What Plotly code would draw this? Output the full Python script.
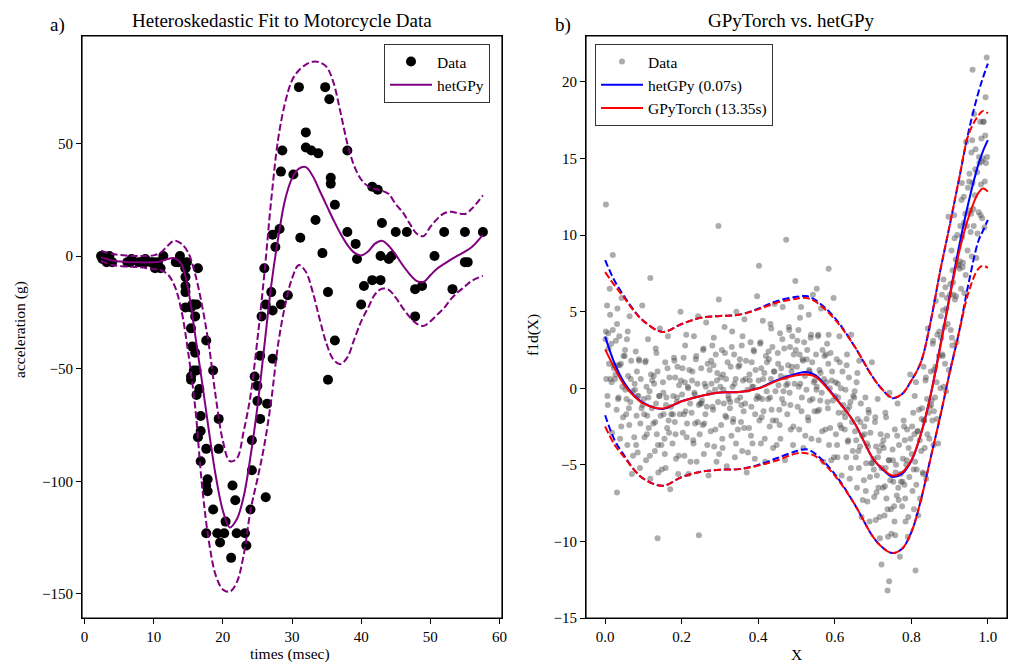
import plotly.graph_objects as go

# ---------------- Panel a) motorcycle data ----------------
moto_times = [2.4, 2.6, 3.2, 3.6, 4.0, 6.2, 6.6, 6.8, 7.8, 8.2,
              8.8, 8.8, 9.6, 10.0, 10.2, 10.6, 11.0, 11.4, 13.2, 13.6,
              13.8, 14.6, 14.6, 14.6, 14.6, 14.6, 14.6, 14.8, 15.4, 15.4,
              15.4, 15.4, 15.6, 15.6, 15.8, 15.8, 16.0, 16.0, 16.2, 16.2,
              16.2, 16.4, 16.4, 16.6, 16.8, 16.8, 16.8, 17.6, 17.6, 17.6,
              17.6, 17.8, 17.8, 18.6, 18.6, 19.2, 19.4, 19.4, 19.6, 20.2,
              20.4, 21.2, 21.4, 21.8, 22.0, 23.2, 23.4, 24.0, 24.2, 24.2,
              24.6, 25.0, 25.0, 25.4, 25.4, 25.6, 26.0, 26.2, 26.2, 26.4,
              27.0, 27.2, 27.2, 27.2, 27.6, 28.2, 28.4, 28.4, 28.6, 29.4,
              30.2, 31.0, 31.2, 32.0, 32.0, 32.8, 33.4, 33.8, 34.4, 34.8,
              35.2, 35.2, 35.4, 35.6, 35.6, 36.2, 36.2, 38.0, 38.0, 39.2,
              39.4, 40.0, 40.4, 41.6, 41.6, 42.4, 42.8, 42.8, 43.0, 44.0,
              44.4, 45.0, 46.6, 47.8, 47.8, 48.8, 50.6, 52.0, 53.2, 55.0,
              55.0, 55.4, 57.6]
moto_accel = [0.0, -1.3, -2.7, 0.0, -2.7, -2.7, -2.7, -1.3, -2.7, -2.7,
              -1.3, -2.7, -2.7, -2.7, -5.4, -2.7, -5.4, 0.0, -2.7, -2.7,
              0.0, -13.3, -5.4, -5.4, -9.3, -16.0, -22.8, -2.7, -22.8, -32.1,
              -53.5, -54.9, -40.2, -21.5, -21.5, -50.8, -42.9, -26.8, -21.5, -50.8,
              -61.7, -5.4, -80.4, -59.0, -71.0, -91.1, -77.7, -37.5, -85.6, -123.1,
              -101.9, -99.1, -104.4, -112.5, -50.8, -123.1, -85.6, -72.3, -127.2, -123.1,
              -117.9, -134.0, -101.9, -108.4, -123.1, -123.1, -128.5, -112.5, -95.1, -81.8,
              -53.5, -64.4, -57.6, -72.3, -44.3, -26.8, -5.4, -107.1, -21.5, -65.6,
              -16.0, -45.6, -24.2, 9.5, 4.0, 12.0, -21.5, 37.5, 46.9, -17.4,
              36.2, 75.0, 8.1, 54.9, 48.2, 46.9, 16.0, 45.6, 1.3, 75.0,
              -16.0, -54.9, 69.6, 34.8, 32.1, -37.5, 22.8, 46.9, 10.7, 5.4,
              -1.3, -21.5, -13.3, 30.8, -10.7, 29.4, 0.0, -10.7, 14.7, -1.3,
              0.0, 10.7, 10.7, -26.8, -14.7, -13.3, 0.0, 10.7, -14.7, -2.7,
              10.7, -2.7, 10.7]

fit_t = [2.4, 4, 6, 8, 10, 11, 12, 13, 14, 15, 16, 17, 18, 19, 20, 21, 22, 23, 24, 25,
         26, 27, 28, 29, 30, 31, 32, 33, 34, 35, 36, 37, 38, 39, 40, 41, 42, 43, 44, 45,
         46, 47, 48, 49, 50, 51, 52, 53, 54, 55, 56, 57.6]
fit_mean = [-0.5, -2.0, -2.6, -2.8, -2.8, -2.4, -1.3, -1.0, -3.5, -15, -35, -56, -78, -98, -113, -120.5, -117, -107, -89, -67,
            -40, -13, 8, 25, 34.5, 38.8, 39.5, 35.5, 29, 22.5, 16, 10, 5, 1.5, 0.3, 2, 5.5, 6.8, 4.5, 0.5,
            -4, -8, -11, -11.5, -8.5, -5.5, -3.5, -1.5, 0.3, 2, 4, 9.4]
fit_upper = [2.4, 1.0, 0.2, 0.0, 0.3, 1.5, 4.5, 6.8, 5.5, 1.5, -8, -22, -40, -63, -82, -91, -90, -78, -62, -37,
             -8, 25, 52, 68, 78, 82.5, 85, 86.3, 86, 84, 77, 64, 50, 40, 34, 31, 29.8, 29, 27.5, 23,
             19.5, 14.5, 10, 8.8, 13, 16.5, 19, 19.7, 19, 18.7, 21, 26.9]
fit_lower = [-2.1, -4.0, -4.6, -5.0, -5.8, -6.2, -8, -13, -24, -43, -67, -102, -127, -142, -148, -149, -145, -133, -113, -99,
             -84, -64, -39, -22, -10, -4, -7, -16, -28, -39, -46, -48, -45, -37, -29, -23, -17, -14.5, -15, -18.5,
             -23, -27, -30, -31, -29, -26, -23, -19, -16, -13.5, -11, -8.8]

# ---------------- Panel b) GPyTorch vs hetGPy ----------------
curve_x = [0, 0.025, 0.05, 0.075, 0.1, 0.15, 0.2, 0.25, 0.3, 0.35, 0.4, 0.45, 0.5, 0.525, 0.55,
           0.6, 0.65, 0.7, 0.725, 0.75, 0.775, 0.8, 0.825, 0.85, 0.875, 0.9, 0.925, 0.95, 0.975, 0.9875, 1.0]
het_mean = [3.37, 1.6, 0.35, -0.45, -0.95, -1.35, -0.85, -0.5, -0.28, -0.25, 0.0, 0.55, 0.95, 1.06, 0.85,
            -0.55, -2.2, -4.6, -5.3, -5.78, -5.6, -4.75, -3.0, -0.5, 2.7, 6.0, 9.3, 12.2, 14.6, 15.5, 16.2]
gpt_mean = [2.54, 1.3, 0.2, -0.5, -1.0, -1.32, -0.85, -0.5, -0.28, -0.25, -0.02, 0.5, 0.85, 0.9, 0.75,
            -0.6, -2.2, -4.6, -5.25, -5.7, -5.5, -4.7, -3.0, -0.5, 2.6, 5.9, 8.9, 11.2, 12.75, 13.05, 12.85]
het_upper = [8.37, 7.0, 6.0, 5.1, 4.4, 3.68, 4.2, 4.6, 4.72, 4.8, 5.2, 5.7, 5.97, 6.02, 5.75,
             4.6, 2.8, 0.7, -0.1, -0.65, -0.4, 0.5, 1.7, 4.3, 7.6, 10.6, 13.7, 16.8, 19.3, 20.3, 21.2]
gpt_upper = [7.58, 6.7, 5.9, 5.05, 4.4, 3.68, 4.2, 4.6, 4.72, 4.8, 5.15, 5.6, 5.85, 5.9, 5.65,
             4.5, 2.8, 0.7, -0.1, -0.62, -0.4, 0.5, 1.7, 4.3, 7.6, 10.6, 13.7, 16.6, 17.8, 18.1, 17.95]
het_lower = [-1.76, -3.4, -4.4, -5.3, -5.9, -6.37, -5.8, -5.45, -5.32, -5.28, -5.0, -4.55, -4.1, -3.98, -4.3,
             -5.6, -7.5, -9.7, -10.4, -10.76, -10.5, -9.4, -7.3, -4.6, -1.9, 1.0, 3.7, 6.9, 9.6, 10.3, 11.0]
gpt_lower = [-2.5, -3.7, -4.5, -5.3, -5.9, -6.37, -5.8, -5.45, -5.32, -5.28, -5.05, -4.7, -4.25, -4.24, -4.45,
             -5.7, -7.5, -9.7, -10.4, -10.76, -10.5, -9.4, -7.3, -4.6, -1.9, 1.0, 3.7, 6.3, 7.8, 8.0, 7.85]

scatter_x_a = [
    0.001, 0.003, 0.005, 0.007, 0.008, 0.010, 0.012, 0.014, 0.016, 0.018, 0.020, 0.022,
    0.026, 0.028, 0.030, 0.032, 0.033, 0.035, 0.037, 0.039, 0.041, 0.043, 0.045, 0.047,
    0.051, 0.053, 0.055, 0.057, 0.058, 0.060, 0.062, 0.064, 0.066, 0.068, 0.070, 0.072,
    0.076, 0.078, 0.080, 0.082, 0.083, 0.085, 0.087, 0.089, 0.091, 0.093, 0.095, 0.097,
    0.101, 0.103, 0.105, 0.107, 0.108, 0.110, 0.112, 0.114, 0.116, 0.118, 0.120, 0.122,
    0.126, 0.128, 0.130, 0.132, 0.133, 0.135, 0.137, 0.139, 0.141, 0.143, 0.145, 0.147,
    0.151, 0.153, 0.155, 0.157, 0.158, 0.160, 0.162, 0.164, 0.166, 0.168, 0.170, 0.172,
    0.176, 0.178, 0.180, 0.182, 0.183, 0.185, 0.187, 0.189, 0.191, 0.193, 0.195, 0.197,
    0.201, 0.203, 0.205, 0.207, 0.208, 0.210, 0.212, 0.214, 0.216, 0.218, 0.220, 0.222,
    0.226, 0.228, 0.230, 0.232, 0.233, 0.235, 0.237, 0.239, 0.241, 0.243, 0.245, 0.247,
    0.251, 0.253, 0.255, 0.257, 0.258, 0.260, 0.262, 0.264, 0.266, 0.268, 0.270, 0.272,
    0.276, 0.278, 0.280, 0.282, 0.283, 0.285, 0.287, 0.289, 0.291, 0.293, 0.295, 0.297,
    0.301, 0.303, 0.305, 0.307, 0.308, 0.310, 0.312, 0.314, 0.316, 0.318, 0.320, 0.322,
    0.326, 0.328, 0.330, 0.332, 0.333, 0.335, 0.337, 0.339, 0.341, 0.343, 0.345, 0.347,
    0.351, 0.353, 0.355, 0.357, 0.358, 0.360, 0.362, 0.364, 0.366, 0.368, 0.370, 0.372,
    0.376, 0.378, 0.380, 0.382, 0.383, 0.385, 0.387, 0.389, 0.391, 0.393, 0.395, 0.397,
    0.401, 0.403, 0.405, 0.407, 0.408, 0.410, 0.412, 0.414, 0.416, 0.418, 0.420, 0.422,
    0.426, 0.428, 0.430, 0.432, 0.433, 0.435, 0.437, 0.439, 0.441, 0.443, 0.445, 0.447,
    0.451, 0.453, 0.455, 0.457, 0.458, 0.460, 0.462, 0.464, 0.466, 0.468, 0.470, 0.472,
    0.476, 0.478, 0.480, 0.482, 0.483, 0.485, 0.487, 0.489, 0.491, 0.493, 0.495, 0.497,
    0.501, 0.503, 0.505, 0.507, 0.508, 0.510, 0.512, 0.514, 0.516, 0.518, 0.520, 0.522,
    0.526, 0.528, 0.530, 0.532, 0.533, 0.535, 0.537, 0.539, 0.541, 0.543, 0.545, 0.547,
    0.551, 0.553, 0.555, 0.557, 0.558, 0.560, 0.562, 0.564, 0.566, 0.568, 0.570, 0.572,
    0.576, 0.578, 0.580, 0.582, 0.583, 0.585, 0.587, 0.589, 0.591, 0.593, 0.595, 0.597,
    0.601, 0.603, 0.605, 0.607, 0.608, 0.610, 0.612, 0.614, 0.616, 0.618, 0.620, 0.622,
    0.626, 0.628, 0.630, 0.632, 0.633, 0.635, 0.637, 0.639, 0.641, 0.643, 0.645, 0.647,
    0.651, 0.653, 0.655, 0.657, 0.658, 0.660, 0.662, 0.664, 0.666, 0.668, 0.670, 0.672,
    0.676, 0.678, 0.680, 0.682, 0.683, 0.685, 0.687, 0.689, 0.691, 0.693, 0.695, 0.697,
    0.701, 0.703, 0.705, 0.707, 0.708, 0.710, 0.712, 0.714, 0.716, 0.718, 0.720, 0.722,
    0.726, 0.728, 0.730, 0.732, 0.733, 0.735, 0.737, 0.739, 0.741, 0.743, 0.745, 0.747,
    0.751, 0.753, 0.755, 0.757, 0.758, 0.760, 0.762, 0.764, 0.766, 0.768, 0.770, 0.772,
    0.776, 0.778, 0.780, 0.782, 0.783, 0.785, 0.787, 0.789, 0.791, 0.793, 0.795, 0.797,
    0.801, 0.803, 0.805, 0.807, 0.808, 0.810, 0.812, 0.814, 0.816, 0.818, 0.820, 0.822,
    0.826, 0.828, 0.830, 0.832, 0.833, 0.835, 0.837, 0.839, 0.841, 0.843, 0.845, 0.847,
    0.851, 0.853, 0.855, 0.857, 0.858, 0.860, 0.862, 0.864, 0.866, 0.868, 0.870, 0.872,
    0.876, 0.878, 0.880, 0.882, 0.883, 0.885, 0.887, 0.889, 0.891, 0.893, 0.895, 0.897,
    0.901, 0.903, 0.905, 0.907, 0.908, 0.910, 0.912, 0.914, 0.916, 0.918, 0.920, 0.922,
    0.926, 0.928, 0.930, 0.932, 0.933, 0.935, 0.937, 0.939, 0.941, 0.943, 0.945, 0.947,
    0.951, 0.953, 0.955, 0.957, 0.958, 0.960, 0.962, 0.964, 0.966, 0.968, 0.970, 0.972,
    0.976, 0.978, 0.980, 0.982, 0.983, 0.985, 0.987, 0.989, 0.991, 0.993, 0.995, 0.997,
    0.002, 0.020, 0.031, 0.118, 0.137, 0.245, 0.296, 0.402, 0.473, 0.553, 0.584, 0.722,
    0.738, 0.742, 0.811, 0.960, 0.994]
scatter_y_a = [
    3.2, 0.6, 5.4, -1.1, 3.6, 1.6, 6.5, 0.6, 2.9, -2.9, 3.8, 1.5,
    0.6, 3.1, -1.4, 5.2, 1.5, -0.6, 3.4, -3.3, 1.6, 5.9, 0.1, -1.9,
    2.1, -0.1, -1.7, 3.2, -3.7, 0.8, -1.3, 4.7, -0.9, 1.8, -5.6, -0.2,
    -3.2, -0.1, 2.4, -1.8, 1.1, -4.2, -0.5, 1.8, -5.2, 0.6, -1.3, 5.4,
    -0.7, -3.2, 1.7, -4.7, 0.1, -1.8, 3.2, -2.6, -0.2, -5.9, 0.9, -1.3,
    -2.3, 0.3, -4.1, 2.6, -1.0, -3.0, 1.1, -5.5, -0.5, 3.9, -1.8, -3.7,
    0.4, -1.7, -3.3, 1.7, -5.2, -0.6, -2.6, 3.4, -2.1, 0.7, -6.6, -1.2,
    -3.6, -0.5, 2.0, -2.2, 0.7, -4.6, -0.9, 1.4, -5.6, 0.2, -1.7, 5.0,
    -0.4, -2.9, 2.0, -4.4, 0.4, -1.5, 3.5, -2.3, 0.1, -5.6, 1.2, -1.0,
    -1.6, 1.1, -3.4, 3.4, -0.3, -2.3, 1.9, -4.8, 0.3, 4.7, -1.1, -3.0,
    1.3, -0.8, -2.4, 2.6, -4.3, 0.3, -1.7, 4.3, -1.2, 1.6, -5.7, -0.3,
    -2.8, 0.3, 2.8, -1.4, 1.5, -3.8, -0.1, 2.2, -4.8, 1.0, -0.9, 5.8,
    0.1, -2.4, 2.5, -3.9, 0.9, -1.0, 4.0, -1.8, 0.6, -5.1, 1.7, -0.5,
    -1.3, 1.4, -3.1, 3.7, 0.1, -2.0, 2.2, -4.5, 0.6, 5.0, -0.8, -2.7,
    1.5, -0.6, -2.2, 2.8, -4.1, 0.5, -1.5, 4.5, -1.0, 1.8, -5.5, -0.1,
    -2.6, 0.5, 3.0, -1.2, 1.7, -3.6, 0.1, 2.4, -4.6, 1.2, -0.7, 6.0,
    0.5, -2.1, 2.9, -3.6, 1.3, -0.7, 4.4, -1.5, 1.0, -4.8, 2.1, -0.2,
    -0.7, 1.9, -2.5, 4.2, 0.6, -1.4, 2.7, -3.9, 1.1, 5.5, -0.2, -2.1,
    2.3, 0.2, -1.4, 3.6, -3.3, 1.3, -0.7, 5.3, -0.2, 2.6, -4.7, 0.7,
    -1.7, 1.5, 4.0, -0.3, 2.7, -2.7, 1.1, 3.4, -3.7, 2.2, 0.3, 7.0,
    1.4, -1.2, 3.8, -2.7, 2.2, 0.3, 5.3, -0.6, 1.9, -3.9, 3.0, 0.8,
    -0.1, 2.5, -1.9, 4.8, 1.2, -0.8, 3.3, -3.3, 1.7, 6.1, 0.4, -1.5,
    2.2, 0.1, -1.5, 3.5, -3.4, 1.2, -0.8, 5.2, -0.3, 2.5, -4.8, 0.6,
    -2.7, 0.4, 2.9, -1.3, 1.6, -3.7, 0.0, 2.3, -4.7, 1.1, -0.8, 5.9,
    -0.5, -3.0, 1.9, -4.5, 0.3, -1.6, 3.4, -2.4, 0.0, -5.7, 1.1, -1.1,
    -2.7, -0.1, -4.5, 2.2, -1.4, -3.4, 0.7, -5.9, -0.9, 3.5, -2.2, -4.1,
    -0.6, -2.8, -4.5, 0.4, -6.5, -2.0, -4.1, 1.8, -3.8, -1.0, -8.4, -3.1,
    -6.0, -3.0, -0.6, -4.9, -2.0, -7.4, -3.8, -1.6, -8.7, -2.9, -4.9, 1.7,
    -4.6, -7.1, -2.2, -8.6, -3.8, -5.7, -0.7, -6.5, -4.1, -9.8, -3.0, -5.2,
    -6.5, -3.9, -8.3, -1.6, -5.2, -7.2, -3.1, -9.7, -4.7, -0.3, -6.0, -7.9,
    -4.0, -6.1, -7.7, -2.7, -9.6, -5.0, -7.0, -1.0, -6.5, -3.7, -11.0, -5.6,
    -7.7, -4.6, -2.1, -6.3, -3.4, -8.7, -5.0, -2.7, -9.7, -3.9, -5.8, 0.9,
    -4.3, -6.7, -1.6, -7.9, -3.0, -4.8, 0.4, -5.3, -2.8, -8.3, -1.4, -3.4,
    -4.1, -1.3, -5.5, 1.4, -2.1, -3.9, 0.5, -5.9, -0.7, 3.9, -1.6, -3.3,
    1.1, -0.8, -2.1, 3.1, -3.7, 1.2, -0.6, 5.7, 0.4, 3.5, -3.6, 2.1,
    0.0, 3.3, 6.1, 2.1, 5.1, 0.1, 4.0, 6.6, -0.2, 5.9, 4.2, 11.2,
    6.1, 3.8, 9.0, 2.8, 7.7, 6.1, 11.3, 5.8, 8.4, 3.0, 10.0, 8.1,
    7.8, 10.6, 6.5, 13.4, 9.9, 8.2, 12.5, 6.2, 11.4, 16.1, 10.6, 9.0,
    13.5, 11.6, 10.2, 15.4, 8.6, 13.4, 11.7, 17.9, 12.6, 15.6, 8.5, 14.1,
    11.5, 14.7, 17.4, 13.3, 16.3, 11.1, 15.0, 17.4, 10.5, 16.5, 14.7, 21.6,
    12.0, 8.7, -6.8, 7.2, -9.8, -9.6, 10.6, 8.0, 9.7, 6.5, 7.8, -11.5,
    -13.2, -12.6, -11.9, 20.8, 19.0]

scatter_x_b = [
    0.002, 0.006, 0.009, 0.013, 0.017, 0.023, 0.027, 0.031, 0.034, 0.038, 0.042, 0.048,
    0.052, 0.056, 0.059, 0.063, 0.067, 0.073, 0.077, 0.081, 0.084, 0.088, 0.092, 0.098,
    0.102, 0.106, 0.109, 0.113, 0.117, 0.123, 0.127, 0.131, 0.134, 0.138, 0.142, 0.148,
    0.152, 0.156, 0.159, 0.163, 0.167, 0.173, 0.177, 0.181, 0.184, 0.188, 0.192, 0.198,
    0.202, 0.206, 0.209, 0.213, 0.217, 0.223, 0.227, 0.231, 0.234, 0.238, 0.242, 0.248,
    0.252, 0.256, 0.259, 0.263, 0.267, 0.273, 0.277, 0.281, 0.284, 0.288, 0.292, 0.298,
    0.302, 0.306, 0.309, 0.313, 0.317, 0.323, 0.327, 0.331, 0.334, 0.338, 0.342, 0.348,
    0.352, 0.356, 0.359, 0.363, 0.367, 0.373, 0.377, 0.381, 0.384, 0.388, 0.392, 0.398,
    0.402, 0.406, 0.409, 0.413, 0.417, 0.423, 0.427, 0.431, 0.434, 0.438, 0.442, 0.448,
    0.452, 0.456, 0.459, 0.463, 0.467, 0.473, 0.477, 0.481, 0.484, 0.488, 0.492, 0.498,
    0.502, 0.506, 0.509, 0.513, 0.517, 0.523, 0.527, 0.531, 0.534, 0.538, 0.542, 0.548,
    0.552, 0.556, 0.559, 0.563, 0.567, 0.573, 0.577, 0.581, 0.584, 0.588, 0.592, 0.598,
    0.602, 0.606, 0.609, 0.613, 0.617, 0.623, 0.627, 0.631, 0.634, 0.638, 0.642, 0.648,
    0.652, 0.656, 0.659, 0.663, 0.667, 0.673, 0.677, 0.681, 0.684, 0.688, 0.692, 0.698,
    0.702, 0.706, 0.709, 0.713, 0.717, 0.723, 0.727, 0.731, 0.734, 0.738, 0.742, 0.748,
    0.752, 0.756, 0.759, 0.763, 0.767, 0.773, 0.777, 0.781, 0.784, 0.788, 0.792, 0.798,
    0.802, 0.806, 0.809, 0.813, 0.817, 0.823, 0.827, 0.831, 0.834, 0.838, 0.842, 0.848,
    0.852, 0.856, 0.859, 0.863, 0.867, 0.873, 0.877, 0.881, 0.884, 0.888, 0.892, 0.898,
    0.902, 0.906, 0.909, 0.913, 0.917, 0.923, 0.927, 0.931, 0.934, 0.938, 0.942, 0.948,
    0.952, 0.956, 0.959, 0.963, 0.967, 0.973, 0.977, 0.981, 0.984, 0.988, 0.992, 0.998]
scatter_y_b = [
    3.7, -0.5, 2.6, 4.8, 0.4, 1.3, 0.9, 4.2, -0.7, 1.5, -2.5, 2.1,
    2.5, -0.7, 3.7, -2.4, 0.6, -4.4, 0.3, -3.7, -0.5, 1.9, -2.3, -1.1,
    -1.7, 1.8, -3.0, -0.6, -4.4, 0.5, 0.8, -2.2, 2.3, -3.7, -0.5, -5.3,
    -0.3, -4.3, -1.1, 1.3, -2.9, -1.7, -1.7, 1.8, -3.0, -0.6, -4.4, 0.5,
    1.3, -1.7, 2.8, -3.2, 0.0, -4.8, 0.5, -3.6, -0.4, 2.1, -2.2, -1.0,
    -1.0, 2.5, -2.3, 0.1, -3.7, 1.2, 1.8, -1.2, 3.3, -2.7, 0.5, -4.3,
    0.7, -3.3, -0.1, 2.3, -1.9, -0.7, -0.9, 2.7, -2.2, 0.3, -3.6, 1.4,
    1.9, -1.1, 3.4, -2.6, 0.6, -4.2, 0.9, -3.1, 0.1, 2.5, -1.7, -0.5,
    -0.6, 3.0, -1.9, 0.6, -3.3, 1.7, 2.4, -0.6, 3.9, -2.1, 1.1, -3.7,
    1.6, -2.4, 0.8, 3.2, -1.0, 0.2, 0.3, 3.8, -1.1, 1.4, -2.5, 2.5,
    3.1, 0.1, 4.6, -1.5, 1.8, -3.1, 1.9, -2.1, 1.1, 3.5, -0.7, 0.5,
    -0.1, 3.4, -1.4, 1.0, -2.8, 2.1, 2.2, -0.9, 3.5, -2.6, 0.5, -4.5,
    0.4, -3.7, -0.6, 1.7, -2.6, -1.6, -1.9, 1.5, -3.5, -1.2, -5.2, -0.5,
    -0.2, -3.4, 1.0, -5.2, -2.2, -7.3, -2.5, -6.7, -3.6, -1.4, -5.8, -4.9,
    -5.3, -1.9, -6.8, -4.5, -8.4, -3.7, -3.4, -6.4, -1.9, -7.9, -4.7, -9.5,
    -4.7, -8.7, -5.5, -3.1, -7.3, -6.1, -6.1, -2.5, -7.2, -4.7, -8.4, -3.3,
    -2.5, -5.3, -0.5, -6.3, -2.8, -7.2, -2.0, -5.6, -2.1, 0.7, -3.0, -1.2,
    -1.1, 2.9, -1.5, 1.4, -2.0, 3.7, 4.7, 2.2, 7.1, 1.6, 5.2, 1.2,
    6.8, 3.3, 6.9, 9.8, 6.0, 8.0, 8.3, 12.3, 7.9, 10.8, 7.4, 13.1,
    14.0, 11.4, 16.2, 10.6, 14.3, 10.1, 15.1, 11.3, 14.8, 17.4, 13.5, 15.1]

x_ticks_a = [0, 10, 20, 30, 40, 50, 60]
y_ticks_a = [-150, -100, -50, 0, 50]
x_ticks_b = [0, 0.2, 0.4, 0.6, 0.8, 1.0]
y_ticks_b = [-15, -10, -5, 0, 5, 10, 15, 20]

FONT = "Liberation Serif"
W, H = 1009, 663
DASH = "7px,3px"

fig = go.Figure()

# Panel a
fig.add_trace(go.Scatter(x=moto_times, y=moto_accel, mode="markers", name="Data",
                         marker=dict(color="black", size=10), xaxis="x", yaxis="y",
                         legend="legend"))
fig.add_trace(go.Scatter(x=fit_t, y=fit_mean, mode="lines", name="hetGPy",
                         line=dict(color="purple", width=2, shape="spline"),
                         xaxis="x", yaxis="y", legend="legend"))
for band in (fit_upper, fit_lower):
    fig.add_trace(go.Scatter(x=fit_t, y=band, mode="lines", showlegend=False,
                             line=dict(color="purple", width=2, dash=DASH, shape="spline"),
                             xaxis="x", yaxis="y"))

# Panel b
fig.add_trace(go.Scatter(x=scatter_x_a + scatter_x_b, y=scatter_y_a + scatter_y_b,
                         mode="markers", name="Data",
                         marker=dict(color="rgba(70,70,70,0.45)", size=6),
                         xaxis="x2", yaxis="y2", legend="legend2"))
fig.add_trace(go.Scatter(x=curve_x, y=het_mean, mode="lines", name="hetGPy (0.07s)",
                         line=dict(color="blue", width=2, shape="spline"),
                         xaxis="x2", yaxis="y2", legend="legend2"))
for band in (het_upper, het_lower):
    fig.add_trace(go.Scatter(x=curve_x, y=band, mode="lines", showlegend=False,
                             line=dict(color="blue", width=2, dash=DASH, shape="spline"),
                             xaxis="x2", yaxis="y2"))
fig.add_trace(go.Scatter(x=curve_x, y=gpt_mean, mode="lines", name="GPyTorch (13.35s)",
                         line=dict(color="red", width=2, shape="spline"),
                         xaxis="x2", yaxis="y2", legend="legend2"))
for band in (gpt_upper, gpt_lower):
    fig.add_trace(go.Scatter(x=curve_x, y=band, mode="lines", showlegend=False,
                             line=dict(color="red", width=2, dash=DASH, shape="spline"),
                             xaxis="x2", yaxis="y2"))

axis_style = dict(showline=True, linecolor="black", linewidth=1, mirror=True,
                  ticks="outside", ticklen=5, tickcolor="black",
                  showgrid=False, zeroline=False, automargin=False,
                  tickfont=dict(family=FONT, size=15, color="black"))

AX_L, AX_R, BX_L, BX_R, AX_T, AX_B = 82, 502, 586, 1007, 36, 618
y_dom = [(H - AX_B) / H, (H - AX_T) / H]
fig.update_layout(
    width=W, height=H, margin=dict(l=0, r=0, t=0, b=0),
    paper_bgcolor="white", plot_bgcolor="white",
    font=dict(family=FONT, size=15, color="black"),
    xaxis=dict(domain=[AX_L / W, AX_R / W], range=[-0.36, 60.36],
               tickvals=x_ticks_a, anchor="y", **axis_style),
    yaxis=dict(domain=y_dom, range=[-160.7, 97.7],
               tickvals=y_ticks_a, anchor="x", **axis_style),
    xaxis2=dict(domain=[BX_L / W, BX_R / W], range=[-0.05, 1.05],
                tickvals=x_ticks_b, tickformat=".1f", anchor="y2", **axis_style),
    yaxis2=dict(domain=y_dom, range=[-15.0, 23.0],
                tickvals=y_ticks_b, anchor="x2", **axis_style),
    legend=dict(x=384 / W, y=1 - 44 / H, xanchor="left", yanchor="top",
                bgcolor="white", bordercolor="#333", borderwidth=1,
                itemwidth=42, font=dict(family=FONT, size=15.5)),
    legend2=dict(x=595 / W, y=1 - 44 / H, xanchor="left", yanchor="top",
                 bgcolor="white", bordercolor="#333", borderwidth=1,
                 itemwidth=42, font=dict(family=FONT, size=15.5)),
)

# axes frames drawn as four separate edge lines per panel
for left, right in ((AX_L, AX_R), (BX_L, BX_R)):
    x0, x1 = left / W, right / W
    for (a0, b0, a1, b1) in ((x0, y_dom[0], x1, y_dom[0]), (x0, y_dom[1], x1, y_dom[1]),
                             (x0, y_dom[0], x0, y_dom[1]), (x1, y_dom[0], x1, y_dom[1])):
        fig.add_shape(type="line", xref="paper", yref="paper", x0=a0, y0=b0, x1=a1, y1=b1,
                      line=dict(color="black", width=1.2), layer="above")


def px_ann(text, x, y, size=15, angle=0):
    fig.add_annotation(text=text, x=x / W, y=1 - y / H, xref="paper", yref="paper",
                       showarrow=False, textangle=angle, xanchor="center", yanchor="middle",
                       font=dict(family=FONT, size=size, color="black"))


px_ann("Heteroskedastic Fit to Motorcycle Data", 282, 20, size=19)
px_ann("GPyTorch vs. hetGPy", 791, 20, size=19)
px_ann("a)", 57, 25, size=19)
px_ann("b)", 563, 25, size=19)
px_ann("times (msec)", 290, 654, size=15.5)
px_ann("acceleration (g)", 20, 330, size=15.5, angle=-90)
px_ann("X", 796, 654, size=15.5)
px_ann("f1d(X)", 533, 335, size=15.5, angle=-90)

fig.write_html("out.html", config={"displayModeBar": False})

# remove default page margin so the figure sits at the window's top-left corner
with open("out.html", "r", encoding="utf-8") as fh:
    html = fh.read()
html = html.replace("<head>", "<head><style>html,body{margin:0;padding:0;}</style>", 1)
with open("out.html", "w", encoding="utf-8") as fh:
    fh.write(html)
